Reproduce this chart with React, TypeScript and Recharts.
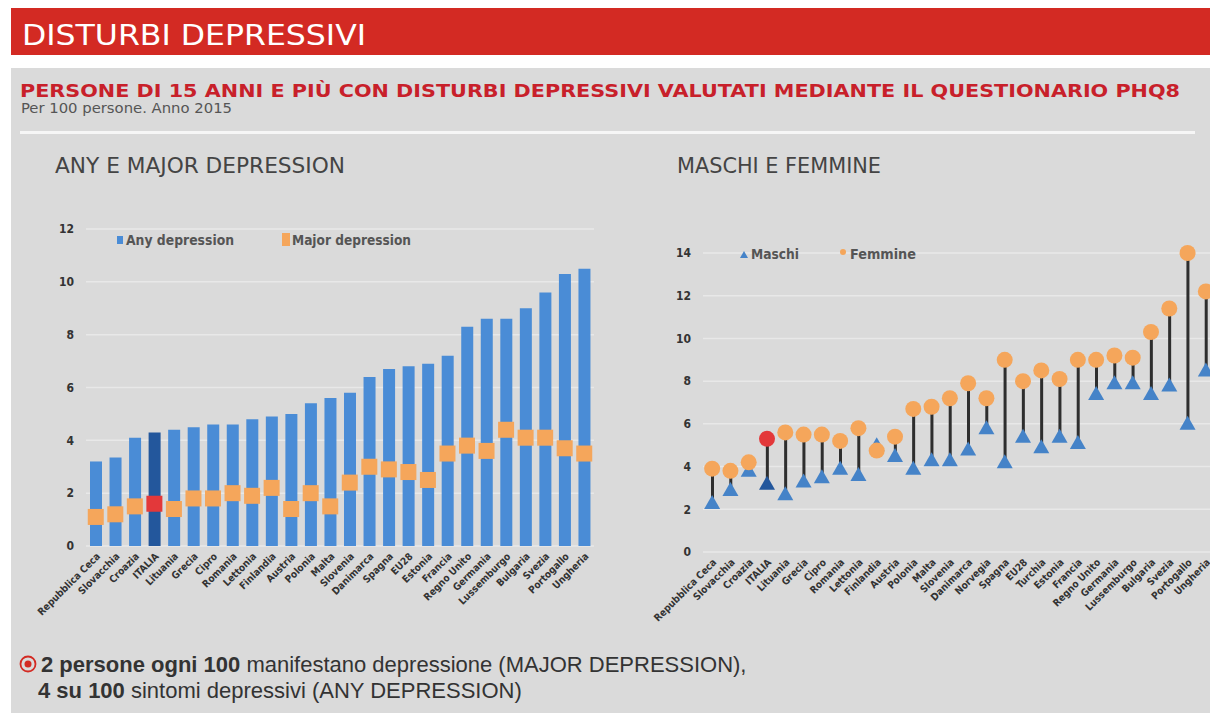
import React from "react";
import { ComposedChart, Bar, Line, Cell, XAxis, YAxis, CartesianGrid, Legend } from "recharts";

const NARROW = '"Liberation Sans Narrow", "DejaVu Sans Condensed", "Arial Narrow", sans-serif';
const SANS = '"Liberation Sans", Arial, sans-serif';
const HEAVY = '"DejaVu Sans", "Liberation Sans", sans-serif';

// --- left chart: any / major depression
const countriesAny = [
    "Repubblica Ceca", "Slovacchia", "Croazia", "ITALIA", "Lituania", "Grecia", "Cipro", "Romania",
    "Lettonia", "Finlandia", "Austria", "Polonia", "Malta", "Slovenia", "Danimarca", "Spagna", "EU28",
    "Estonia", "Francia", "Regno Unito", "Germania", "Lussemburgo", "Bulgaria", "Svezia", "Portogallo", "Ungheria",
];
const anyDepression = [3.2, 3.35, 4.1, 4.3, 4.4, 4.5, 4.6, 4.6, 4.8, 4.9, 5.0, 5.4, 5.6, 5.8, 6.4, 6.7, 6.8, 6.9, 7.2, 8.3, 8.6, 8.6, 9.0, 9.6, 10.3, 10.5];
const majorDepression = [1.1, 1.2, 1.5, 1.6, 1.4, 1.8, 1.8, 2.0, 1.9, 2.2, 1.4, 2.0, 1.5, 2.4, 3.0, 2.9, 2.8, 2.5, 3.5, 3.8, 3.6, 4.4, 4.1, 4.1, 3.7, 3.5];
const ticksAny = [0, 2, 4, 6, 8, 10, 12];

// --- right chart: maschi / femmine
const countriesSex = [
    "Repubblica Ceca", "Slovacchia", "Croazia", "ITALIA", "Lituania", "Grecia", "Cipro", "Romania",
    "Lettonia", "Finlandia", "Austria", "Polonia", "Malta", "Slovenia", "Danimarca", "Norvegia", "Spagna",
    "EU28", "Turchia", "Estonia", "Francia", "Regno Unito", "Germania", "Lussemburgo", "Bulgaria", "Svezia",
    "Portogallo", "Ungheria",
];
const maschi = [2.3, 2.9, 3.8, 3.2, 2.7, 3.3, 3.5, 3.9, 3.6, 5.0, 4.5, 3.9, 4.3, 4.3, 4.8, 5.8, 4.2, 5.4, 4.9, 5.4, 5.1, 7.4, 7.9, 7.9, 7.4, 7.8, 6.0, 8.5];
const femmine = [3.9, 3.8, 4.2, 5.3, 5.6, 5.5, 5.5, 5.2, 5.8, 4.75, 5.4, 6.7, 6.8, 7.2, 7.9, 7.2, 9.0, 8.0, 8.5, 8.1, 9.0, 9.0, 9.2, 9.1, 10.3, 11.4, 14.0, 12.2];
const ticksSex = [0, 2, 4, 6, 8, 10, 12, 14];

const BLUE = "#4a8cd6";
const BLUE_IT = "#23579c";
const ORANGE = "#f5a65b";
const RED = "#e3383a";
const TRI = "#4583c8";
const GRID = "#e8e8e8";

const anyData = countriesAny.map((name, i) => ({ name, any: anyDepression[i], major: majorDepression[i] }));
const sexData = countriesSex.map((name, i) => ({ name, m: maschi[i], f: femmine[i] }));

const CountryTick = (props: any) => {
    const { x, y, payload } = props;
    const tx = x + 5;
    const ty = y + 3;
    return (
        <text x={tx} y={ty} transform={`rotate(-45 ${tx} ${ty})`} textAnchor="end" fontFamily={NARROW} fontSize={10} fontWeight={700} fill="#333">
            {payload.value}
        </text>
    );
};

const yTick = { fontFamily: NARROW, fontSize: 12, fontWeight: 700, fill: "#333" };

const SquareDot = (props: any) => {
    const { cx, cy, payload } = props;
    if (cx == null || cy == null) return null;
    const fill = payload.name === "ITALIA" ? RED : ORANGE;
    return <rect key={`sq-${payload.name}`} x={cx - 8} y={cy - 8} width={16} height={16} fill={fill} />;
};

const TriangleDot = (props: any) => {
    const { cx, cy, payload } = props;
    if (cx == null || cy == null) return null;
    const fill = payload.name === "ITALIA" ? BLUE_IT : TRI;
    return <path key={`tr-${payload.name}`} d={`M${cx},${cy - 8} L${cx + 8},${cy + 6} L${cx - 8},${cy + 6} Z`} fill={fill} />;
};

const CircleDot = (props: any) => {
    const { cx, cy, payload } = props;
    if (cx == null || cy == null) return null;
    const fill = payload.name === "ITALIA" ? RED : ORANGE;
    return <circle key={`ci-${payload.name}`} cx={cx} cy={cy} r={8} fill={fill} />;
};

const Stem = (props: any) => {
    const { x, y, width, height } = props;
    const top = Math.min(y, y + height);
    const h = Math.abs(height);
    return <rect x={x + width / 2 - 1.5} y={top} width={3} height={h} fill="#2e2e2e" />;
};

const AnyLegend = () => (
    <svg width={330} height={24}>
        <rect x={1} y={8} width={6} height={8} fill={BLUE} />
        <text x={10} y={17} fontFamily={NARROW} fontSize={13.5} fontWeight={700} fill="#555" textLength={108} lengthAdjust="spacingAndGlyphs">Any depression</text>
        <rect x={166} y={5} width={8} height={13} fill={ORANGE} />
        <text x={176} y={17} fontFamily={NARROW} fontSize={13.5} fontWeight={700} fill="#555" textLength={119} lengthAdjust="spacingAndGlyphs">Major depression</text>
    </svg>
);

const SexLegend = () => (
    <svg width={200} height={24}>
        <path d="M4,9 L8,16 L0,16 Z" fill={TRI} />
        <text x={11} y={17} fontFamily={NARROW} fontSize={13.5} fontWeight={700} fill="#555" textLength={48} lengthAdjust="spacingAndGlyphs">Maschi</text>
        <circle cx={103} cy={10} r={3} fill={ORANGE} />
        <text x={110} y={17} fontFamily={NARROW} fontSize={13.5} fontWeight={700} fill="#555" textLength={66} lengthAdjust="spacingAndGlyphs">Femmine</text>
    </svg>
);

export default function App() {
    return (
        <div style={{ position: "absolute", left: 0, top: 0, width: 1210, height: 713, overflow: "hidden", background: "#fff" }}>
            <div style={{ position: "absolute", left: 11, top: 8, width: 1199, height: 47, background: "#d32a23" }} />
            <div style={{ position: "absolute", left: 11, top: 68, width: 1199, height: 645, background: "#dadada" }} />
            <div style={{ position: "absolute", left: 20, top: 131, width: 1175, height: 3, background: "#f6f6f6" }} />

            <svg width={1210} height={713} style={{ position: "absolute", left: 0, top: 0 }}>
                <text x={22} y={45} fontFamily={NARROW} fontSize={28} fill="#fff" textLength={344} lengthAdjust="spacingAndGlyphs">DISTURBI DEPRESSIVI</text>
                <text x={20} y={97} fontFamily={HEAVY} fontSize={17} fontWeight={700} fill="#c8202a" textLength={1160} lengthAdjust="spacingAndGlyphs">
                    PERSONE DI 15 ANNI E PIÙ CON DISTURBI DEPRESSIVI VALUTATI MEDIANTE IL QUESTIONARIO PHQ8
                </text>
                <text x={21} y={113} fontFamily={NARROW} fontSize={14} fill="#555" textLength={211} lengthAdjust="spacingAndGlyphs">Per 100 persone. Anno 2015</text>
                <text x={55} y={173} fontFamily={NARROW} fontSize={22} fill="#444" textLength={290} lengthAdjust="spacingAndGlyphs">ANY E MAJOR DEPRESSION</text>
                <text x={677} y={173} fontFamily={NARROW} fontSize={22} fill="#444" textLength={204} lengthAdjust="spacingAndGlyphs">MASCHI E FEMMINE</text>

                <circle cx={28} cy={664} r={7.5} fill="none" stroke="#d32a23" strokeWidth={1.8} />
                <circle cx={28} cy={664} r={3.5} fill="#d32a23" />
                <text x={41} y={672} fontFamily={SANS} fontSize={22} fill="#333">
                    <tspan fontWeight={700}>2 persone ogni 100</tspan> manifestano depressione (MAJOR DEPRESSION),
                </text>
                <text x={38} y={698} fontFamily={SANS} fontSize={22} fill="#333">
                    <tspan fontWeight={700}>4 su 100</tspan> sintomi depressivi (ANY DEPRESSION)
                </text>
            </svg>

            <div style={{ position: "absolute", left: 30, top: 180 }}>
                <ComposedChart width={580} height={460} data={anyData} margin={{ top: 25, right: 16, left: 16, bottom: 8 }}>
                    <CartesianGrid vertical={false} stroke={GRID} strokeWidth={1.5} />
                    <XAxis dataKey="name" interval={0} axisLine={false} tickLine={false} height={86} tick={<CountryTick />} />
                    <YAxis domain={[0, 12]} ticks={ticksAny} width={40} axisLine={false} tickLine={false} tickMargin={6} tick={yTick} />
                    <Legend
                        verticalAlign="top"
                        content={<AnyLegend />}
                        wrapperStyle={{ position: "absolute", top: 48, left: 86, width: 330, height: 24 }}
                    />
                    <Bar dataKey="any" name="Any depression" barSize={12} isAnimationActive={false}>
                        {anyData.map((d) => (
                            <Cell key={d.name} fill={d.name === "ITALIA" ? BLUE_IT : BLUE} />
                        ))}
                    </Bar>
                    <Line dataKey="major" name="Major depression" stroke="none" dot={<SquareDot />} activeDot={false} isAnimationActive={false} />
                </ComposedChart>
            </div>

            <div style={{ position: "absolute", left: 640, top: 200 }}>
                <ComposedChart width={590} height={440} data={sexData} margin={{ top: 29, right: 15, left: 23, bottom: 8 }}>
                    <CartesianGrid vertical={false} stroke={GRID} strokeWidth={1.5} />
                    <XAxis dataKey="name" interval={0} axisLine={false} tickLine={false} height={80} tick={<CountryTick />} />
                    <YAxis domain={[0, 14]} ticks={ticksSex} width={40} axisLine={false} tickLine={false} tickMargin={6} tick={yTick} />
                    <Legend
                        verticalAlign="top"
                        content={<SexLegend />}
                        wrapperStyle={{ position: "absolute", top: 42, left: 100, width: 200, height: 24 }}
                    />
                    <Bar dataKey={(d: any) => [Math.min(d.m, d.f), Math.max(d.m, d.f)]} barSize={3} shape={<Stem />} legendType="none" isAnimationActive={false} />
                    <Line dataKey="m" name="Maschi" stroke="none" dot={<TriangleDot />} activeDot={false} isAnimationActive={false} />
                    <Line dataKey="f" name="Femmine" stroke="none" dot={<CircleDot />} activeDot={false} isAnimationActive={false} />
                </ComposedChart>
            </div>
        </div>
    );
}
